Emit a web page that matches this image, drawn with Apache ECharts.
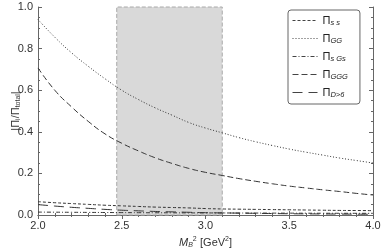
<!DOCTYPE html>
<html><head><meta charset="utf-8">
<script src="https://cdn.jsdelivr.net/npm/echarts@6/dist/echarts.min.js"></script>
<style>html,body{margin:0;padding:0;background:#fff}#c{width:382px;height:251px}</style>
</head><body><div id="c"></div>
<script>
const xVals = [2.0,2.1,2.2,2.3,2.4,2.5,2.6,2.7,2.8,2.9,3.0,3.1,3.2,3.3,3.4,3.5,3.6,3.7,3.8,3.9,4.0];
const piSS  = [0.064,0.059,0.055,0.051,0.047,0.044,0.041,0.038,0.036,0.034,0.031,0.029,0.028,0.027,0.026,0.025,0.024,0.023,0.022,0.0215,0.021];
const piGG  = [0.94,0.855,0.78,0.715,0.655,0.60,0.555,0.515,0.48,0.445,0.418,0.395,0.372,0.352,0.334,0.317,0.302,0.288,0.274,0.262,0.25];
const piSGS = [0.014,0.0135,0.013,0.0125,0.012,0.0115,0.011,0.0108,0.0105,0.0102,0.010,0.0098,0.0095,0.0093,0.009,0.0088,0.0086,0.0084,0.0082,0.0081,0.008];
const piGGG = [0.707,0.60,0.52,0.45,0.39,0.345,0.308,0.275,0.248,0.224,0.205,0.19,0.175,0.162,0.150,0.139,0.130,0.121,0.113,0.104,0.096];
const piD6  = [0.050,0.043,0.037,0.032,0.027,0.023,0.020,0.017,0.015,0.013,0.011,0.010,0.009,0.008,0.007,0.006,0.0055,0.005,0.0045,0.004,0.0035];
const bandRange = [2.47, 3.10];
const xTicks = {min:2, max:4, interval:0.5};
const yTicks = {min:0, max:1, interval:0.2};
const seriesNames = ['ss','GG','sGs','GGG','D>6'];
const legendSubs = {'ss':'s s','GG':'GG','sGs':'s Gs','GGG':'GGG','D>6':'D>6'};

const F = 'Liberation Sans, Arial, sans-serif';
const pair = arr => xVals.map((x,i)=>[x,arr[i]]);
const dashes = {
  'ss':[3,2], 'GG':[1,2], 'sGs':[4,2,1,2], 'GGG':[6,3], 'D>6':[10,6]
};
const datas = {'ss':piSS,'GG':piGG,'sGs':piSGS,'GGG':piGGG,'D>6':piD6};
const lineSeries = seriesNames.map(n=>({
  name:n, type:'line', data:pair(datas[n]), symbol:'none', smooth:true, z:3,
  lineStyle:{color:'#333', width:1, type:dashes[n]}, itemStyle:{color:'#333'}
}));
const baseAxis = {
  axisLine:{show:true, lineStyle:{color:'#666', width:1}},
  axisTick:{show:true, inside:true, length:4, lineStyle:{color:'#666'}},
  splitLine:{show:false},
};
const chart = echarts.init(document.getElementById('c'), null, {renderer:'canvas'});
chart.setOption({
  animation:false,
  grid:{left:38, right:9, top:7, bottom:36, containLabel:false, outerBoundsMode:'none'},
  legend:{
    orient:'vertical', left:288, top:10, width:70,
    data:seriesNames, itemWidth:25, itemHeight:12, itemGap:6,
    padding:[5,12,5,4], borderColor:'#666', borderWidth:1, borderRadius:3,
    backgroundColor:'#fff',
    itemStyle:{opacity:0},
    lineStyle:{width:1, color:'#444'},
    formatter: n => '{p|Π}{s|' + legendSubs[n] + '}',
    textStyle:{fontFamily:F, color:'#222', rich:{
      p:{fontSize:11, fontFamily:F, color:'#222'},
      s:{fontSize:7.5, fontFamily:F, fontStyle:'italic', color:'#222', padding:[5,0,0,0]}
    }}
  },
  xAxis:[
    Object.assign({}, baseAxis, {type:'value', min:xTicks.min, max:xTicks.max, interval:xTicks.interval,
      minorTick:{show:true, splitNumber:5, length:2, lineStyle:{color:'#666'}},
      axisLabel:{fontFamily:F, fontSize:11, color:'#333', margin:5, formatter:v=>v.toFixed(1)},
      name:'{m|M}{b|B}{t|2} {r|[GeV}{t|2}{r|]}', nameLocation:'middle', nameGap:21,
      nameTextStyle:{rich:{
        m:{fontFamily:F, fontSize:11, fontStyle:'italic', color:'#333'},
        b:{fontFamily:F, fontSize:7, fontStyle:'italic', color:'#333', padding:[5,0,0,0]},
        t:{fontFamily:F, fontSize:7, color:'#333', padding:[0,0,6,0]},
        r:{fontFamily:F, fontSize:11, color:'#333'}
      }}}),
    Object.assign({}, baseAxis, {type:'value', position:'top', min:xTicks.min, max:xTicks.max, interval:xTicks.interval,
      minorTick:{show:true, splitNumber:5, length:2, lineStyle:{color:'#666'}},
      axisLabel:{show:false}})
  ],
  yAxis:[
    Object.assign({}, baseAxis, {type:'value', min:yTicks.min, max:yTicks.max, interval:yTicks.interval,
      minorTick:{show:true, splitNumber:4, length:2, lineStyle:{color:'#666'}},
      axisLabel:{fontFamily:F, fontSize:11, color:'#333', margin:5, formatter:v=>v.toFixed(1)},
      name:'{r||Π}{s|i}{r|/Π}{s|total}{r||}', nameLocation:'middle', nameGap:16, nameRotate:90,
      nameMoveOverlap:false,
      nameTextStyle:{rich:{
        r:{fontFamily:F, fontSize:11, color:'#333'},
        s:{fontFamily:F, fontSize:7, color:'#333', padding:[5,0,0,0]}
      }}}),
    Object.assign({}, baseAxis, {type:'value', position:'right', min:yTicks.min, max:yTicks.max, interval:yTicks.interval,
      minorTick:{show:true, splitNumber:4, length:2, lineStyle:{color:'#666'}},
      axisLabel:{show:false}})
  ],
  series:[
    {type:'line', data:[], z:1, silent:true,
      markArea:{silent:true, itemStyle:{color:'#d9d9d9', borderColor:'#aaa', borderWidth:1, borderType:'dashed'},
        data:[[{xAxis:bandRange[0]},{xAxis:bandRange[1]}]]}}
  ].concat(lineSeries)
});
</script></body></html>
